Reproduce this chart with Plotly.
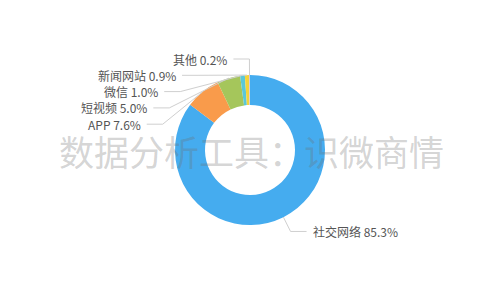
import math
import plotly.graph_objects as go

labels = ["社交网络", "APP", "短视频", "微信", "新闻网站", "其他"]
values = [85.3, 7.6, 5.0, 1.0, 0.9, 0.2]
colors = ["#45ACEF", "#F99B4B", "#A5C65B", "#5BC8D8", "#F5D33A", "#C9C3E6"]
watermark = "数据分析工具：识微商情"

W, H = 500, 300
CX, CY, R = 250, 150, 75
L1, L2, GAP, LINE_H = 16, 16, 4, 16.3
FONT = "Noto Sans CJK SC, Microsoft YaHei, sans-serif"

def px(x):
    return x / W

def py(y):
    return 1 - y / H

fig = go.Figure(go.Pie(
    labels=labels, values=values, sort=False, direction="clockwise", rotation=0,
    hole=0.6, marker=dict(colors=colors, line=dict(width=0)),
    textinfo="none", hoverinfo="label+percent",
    domain=dict(x=[px(CX - R), px(CX + R)], y=[py(CY + R), py(CY - R)]),
    showlegend=False,
))

total = sum(values)
cum = 0
items = []
for lab, v in zip(labels, values):
    mid = (cum + v / 2) / total * 2 * math.pi
    cum += v
    s, c = math.sin(mid), math.cos(mid)
    ex, ey = CX + R * s, CY - R * c
    ly = CY - (R + L1) * c
    items.append(dict(lab=lab, v=v, s=s, c=c, ex=ex, ey=ey, ly=ly,
                      side="right" if s > 0.0 else "left"))

# stack overlapping labels per side (push downward)
for side in ("left", "right"):
    grp = sorted([it for it in items if it["side"] == side], key=lambda d: d["ly"])
    prev = None
    for it in grp:
        if prev is not None and it["ly"] < prev + LINE_H:
            it["ly"] = prev + LINE_H
        prev = it["ly"]

shapes, annotations = [], []
for it in items:
    dy = it["ly"] - CY
    rr = R + L1
    dx = math.sqrt(max(rr * rr - dy * dy, 0))
    sign = 1 if it["side"] == "right" else -1
    bx = CX + sign * dx
    hx = bx + sign * L2
    path = f"M {px(it['ex'])} {py(it['ey'])} L {px(bx)} {py(it['ly'])} L {px(hx)} {py(it['ly'])}"
    shapes.append(dict(type="path", xref="paper", yref="paper", path=path,
                       line=dict(color="#cfcfcf", width=1)))
    annotations.append(dict(
        x=px(hx + sign * GAP), y=py(it["ly"]), xref="paper", yref="paper",
        text=f"{it['lab']} {it['v']:.1f}%", showarrow=False,
        xanchor="left" if sign > 0 else "right", yanchor="middle",
        font=dict(size=12, color="#555555", family=FONT)))

annotations.append(dict(
    x=px(CX + 1), y=py(CY), xref="paper", yref="paper", text=watermark,
    showarrow=False, xanchor="center", yanchor="middle",
    font=dict(size=35, color="rgba(110,110,110,0.3)", family=FONT)))

fig.update_layout(
    width=W, height=H, margin=dict(l=0, r=0, t=0, b=0),
    paper_bgcolor="white", plot_bgcolor="white",
    shapes=shapes, annotations=annotations,
)
fig.write_html("out.html")
